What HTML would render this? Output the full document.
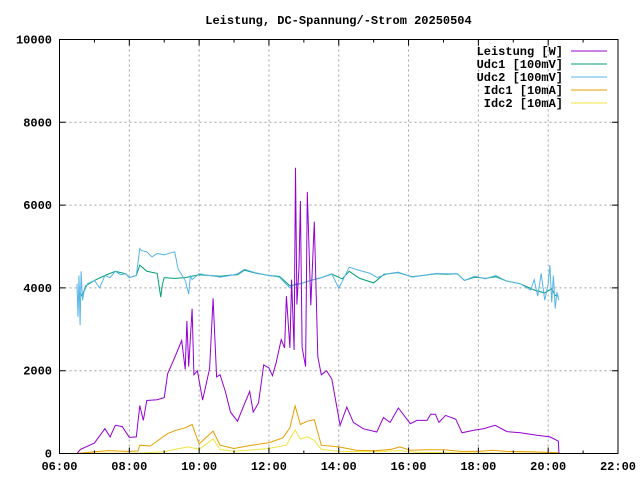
<!DOCTYPE html>
<html><head><meta charset="utf-8"><style>
html,body{margin:0;padding:0;background:#fff}
svg{display:block}
text{font-family:"Liberation Mono",monospace;font-size:12px;font-weight:bold;fill:#000}
</style></head><body>
<svg id="chart" width="640" height="480" viewBox="0 0 640 480">
<rect width="640" height="480" fill="#fff"/>
<text x="338.5" y="24" text-anchor="middle">Leistung, DC-Spannung/-Strom 20250504</text>
<g id="grid"></g>
<g id="series"></g>
<rect x="59.5" y="39.5" width="558.5" height="414" fill="none" stroke="#000" stroke-width="1"/>
<g id="axes"></g>
<g id="legend"></g>
</svg>
<script>
const xTicks=[6,8,10,12,14,16,18,20,22];
const xTickLabels=["06:00","08:00","10:00","12:00","14:00","16:00","18:00","20:00","22:00"];
const yTicks=[0,2000,4000,6000,8000,10000];
const yTickLabels=["0","2000","4000","6000","8000","10000"];
const seriesNames=["Leistung [W]","Udc1 [100mV]","Udc2 [100mV]","Idc1 [10mA]","Idc2 [10mA]"];
const seriesColors=["#9400d3","#009e73","#56b4e9","#e69f00","#f0e442"];

const pT=[6.5,6.6,7.0,7.3,7.45,7.6,7.8,8.0,8.2,8.3,8.4,8.5,8.8,9.0,9.1,9.3,9.5,9.6,9.65,9.7,9.8,9.85,9.95,10.1,10.3,10.4,10.5,10.6,10.75,10.9,11.1,11.3,11.45,11.55,11.7,11.85,12.0,12.1,12.2,12.35,12.45,12.5,12.6,12.65,12.72,12.76,12.8,12.86,12.9,12.95,13.05,13.1,13.2,13.3,13.4,13.5,13.65,13.8,14.04,14.23,14.42,14.7,15.09,15.28,15.47,15.71,16.05,16.24,16.53,16.63,16.77,16.87,17.06,17.35,17.53,17.87,18.15,18.48,18.82,19.2,19.68,20.05,20.29,20.31];
const pV=[0,100,250,600,400,680,650,390,400,1160,800,1280,1300,1350,1930,2320,2730,2030,3200,2100,3500,1900,2000,1290,2050,3750,1850,1900,1500,1000,780,1200,1500,1000,1220,2140,2070,1880,2170,2750,2550,3800,2550,4200,2500,6900,3600,4500,6100,2560,2100,6320,3580,5600,2340,1900,2000,1800,680,1120,750,600,520,870,750,1100,720,800,800,950,950,750,920,830,500,560,600,680,530,500,440,400,300,0];

const u1T=[6.55,6.65,6.75,7.0,7.3,7.6,7.9,8.0,8.2,8.3,8.5,8.8,8.9,8.95,9.0,9.3,9.6,10.0,10.3,10.6,10.9,11.1,11.3,11.6,12.0,12.3,12.6,12.9,13.2,13.5,13.8,14.1,14.3,14.6,15.0,15.3,15.7,16.1,16.4,16.8,17.1,17.4,17.6,17.9,18.2,18.5,18.8,19.2,19.6,19.9,20.1,20.2,20.3];
const u1V=[3900,3800,4050,4180,4300,4400,4340,4250,4300,4550,4400,4350,3780,4100,4250,4230,4250,4320,4300,4280,4310,4320,4430,4360,4300,4280,4050,4100,4180,4250,4330,4220,4400,4230,4120,4330,4370,4270,4300,4340,4330,4340,4180,4260,4230,4270,4170,4100,3950,3880,3980,3820,3800];

const u2T=[6.5,6.53,6.56,6.59,6.62,6.66,6.7,6.8,7.0,7.15,7.3,7.45,7.6,7.75,7.9,8.0,8.2,8.3,8.35,8.5,8.65,8.8,9.0,9.2,9.3,9.4,9.6,9.7,9.75,9.8,10.0,10.3,10.6,10.9,11.1,11.3,11.6,12.0,12.3,12.6,12.75,12.9,13.2,13.5,13.8,14.0,14.3,14.6,14.9,15.1,15.4,15.7,16.1,16.4,16.8,17.1,17.4,17.6,17.9,18.2,18.5,18.8,19.2,19.5,19.6,19.7,19.8,19.9,20.0,20.05,20.1,20.15,20.2,20.25,20.3];
const u2V=[4100,3300,4300,3100,4400,3700,3900,4100,4180,4000,4300,4250,4400,4320,4340,4250,4300,4950,4900,4870,4750,4830,4800,4850,4870,4450,4180,3850,4300,4200,4340,4300,4260,4300,4340,4450,4370,4300,4260,4000,4100,4100,4180,4250,4340,3990,4500,4420,4350,4250,4340,4380,4260,4300,4350,4340,4340,4180,4280,4220,4300,4170,4100,3950,4200,3800,4350,3700,4100,4550,3650,4300,3500,3900,3700];

const i1T=[6.5,7.0,7.4,8.0,8.25,8.3,8.6,9.1,9.3,9.6,9.8,10.0,10.4,10.6,11.0,11.5,12.0,12.4,12.6,12.75,12.9,13.1,13.3,13.5,14.0,14.5,15.0,15.5,15.75,16.05,16.5,17.0,17.5,18.0,18.4,18.8,19.5,20.3];
const i1V=[0,40,70,50,60,200,180,480,550,620,700,230,540,200,120,200,260,380,620,1150,700,780,820,200,160,80,65,100,160,80,90,90,50,50,80,50,40,20];

const i2T=[6.5,8.3,9.0,9.3,9.7,10.0,10.4,10.6,11.0,12.0,12.5,12.75,12.9,13.1,13.3,13.5,14.0,15.0,15.75,16.2,17.5,18.5,20.3];
const i2V=[10,10,40,100,160,100,350,100,50,120,200,570,350,400,320,100,50,40,70,30,15,10,5];

const X0=59.5,X1=618,Y0=453.5,Y1=39.5;
const xs=h=>X0+(h-6)/(22-6)*(X1-X0);
const ys=v=>Y0-v/10000*(Y0-Y1);
const NS="http://www.w3.org/2000/svg";
function mk(tag,parent){const e=document.createElementNS(NS,tag);parent.appendChild(e);return e;}
const grid=document.getElementById('grid'),axes=document.getElementById('axes');
xTicks.forEach((t,i)=>{
  const x=xs(t);
  if(i>0&&i<xTicks.length-1){const l=mk('line',grid);
  
  
  l.setAttribute('x1',x);l.setAttribute('x2',x);l.setAttribute('y1',Y1);l.setAttribute('y2',Y0);
  l.setAttribute('stroke','#a0a0a0');l.setAttribute('stroke-dasharray','2,3');}
  const tk=mk('path',axes);
  
  
  tk.setAttribute('d',`M${x} ${Y0}v-6M${x} ${Y1}v6`);tk.setAttribute('stroke','#000');
  if(i<xTicks.length-1){const m=xs(t+1);const mt=mk('path',axes);
  
  
  mt.setAttribute('d',`M${m} ${Y0}v-3M${m} ${Y1}v3`);mt.setAttribute('stroke','#000');}
  const tx=mk('text',axes);
  
  
  tx.setAttribute('x',x);tx.setAttribute('y',470);tx.setAttribute('text-anchor','middle');
  tx.textContent=xTickLabels[i];
});
yTicks.forEach((t,i)=>{
  const y=ys(t);
  if(i>0&&i<yTicks.length-1){const l=mk('line',grid);
  
  
  l.setAttribute('x1',X0);l.setAttribute('x2',X1);l.setAttribute('y1',y);l.setAttribute('y2',y);
  l.setAttribute('stroke','#a0a0a0');l.setAttribute('stroke-dasharray','2,3');}
  const tk=mk('path',axes);
  
  
  tk.setAttribute('d',`M${X0} ${y}h6M${X1} ${y}h-6`);tk.setAttribute('stroke','#000');
  const tx=mk('text',axes);
  
  
  tx.setAttribute('x',52);tx.setAttribute('y',y+4);tx.setAttribute('text-anchor','end');
  tx.textContent=yTickLabels[i];
});
const ser=document.getElementById('series');
const data=[[pT,pV],[u1T,u1V],[u2T,u2V],[i1T,i1V],[i2T,i2V]];
const order=[4,3,1,2,0];
const snames=['leistung-line','udc1-line','udc2-line','idc1-line','idc2-line'];
order.forEach(k=>{
  const [T,V]=data[k];
  const pl=mk('polyline',ser);
  
  
  pl.setAttribute('points',T.map((t,j)=>xs(t).toFixed(1)+','+ys(V[j]).toFixed(1)).join(' '));
  pl.setAttribute('fill','none');pl.setAttribute('stroke',seriesColors[k]);pl.setAttribute('stroke-width','1');
});
const lg=document.getElementById('legend');
seriesNames.forEach((n,i)=>{
  const y=51+i*13;
  const tx=mk('text',lg);
  
  
  tx.setAttribute('x',563);tx.setAttribute('y',y+4);tx.setAttribute('text-anchor','end');
  tx.textContent=n;
  const l=mk('line',lg);
  
  
  l.setAttribute('x1',571);l.setAttribute('x2',607);l.setAttribute('y1',y);l.setAttribute('y2',y);
  l.setAttribute('stroke',seriesColors[i]);
});
</script>
</body></html>
